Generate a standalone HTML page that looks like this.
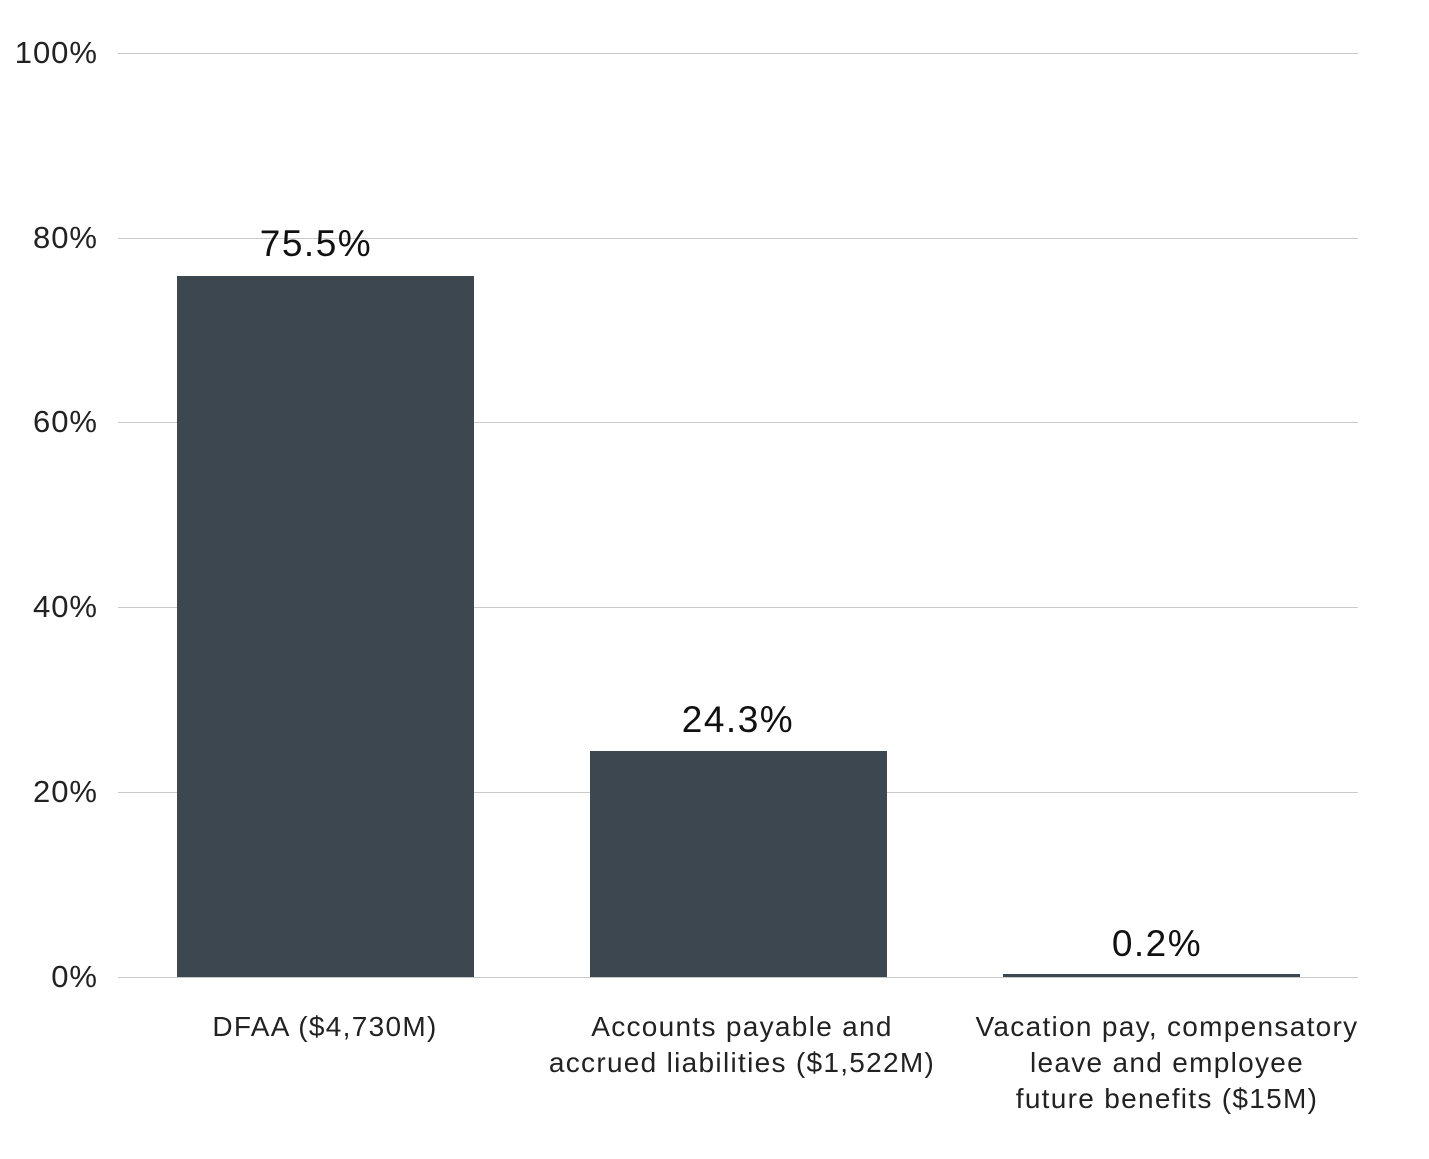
<!DOCTYPE html>
<html><head><style>
html,body{margin:0;padding:0;background:#fff;}
body{width:1429px;height:1159px;position:relative;overflow:hidden;font-family:"Liberation Sans",sans-serif;color:#111;}
.g{position:absolute;left:118px;width:1240px;height:1px;background:#c8c8c8;}
.t{position:absolute;left:0;width:98px;text-align:right;font-size:31px;line-height:30px;color:#222;letter-spacing:1px;}
.b{position:absolute;background:#3d4750;}
.v{position:absolute;width:300px;text-align:center;font-size:37px;line-height:36px;letter-spacing:1.5px;}
.c{position:absolute;width:460px;text-align:center;font-size:28px;line-height:36px;color:#222;letter-spacing:1.3px;}
</style></head><body>
<div class="g" style="top:53px"></div>
<div class="g" style="top:238px"></div>
<div class="g" style="top:422px"></div>
<div class="g" style="top:607px"></div>
<div class="g" style="top:792px"></div>
<div class="g" style="top:977px"></div>
<div class="t" style="top:38px">100%</div>
<div class="t" style="top:223px">80%</div>
<div class="t" style="top:407px">60%</div>
<div class="t" style="top:592px">40%</div>
<div class="t" style="top:777px">20%</div>
<div class="t" style="top:962px">0%</div>
<div class="b" style="left:177px;top:276px;width:297px;height:701px"></div>
<div class="b" style="left:590px;top:751px;width:297px;height:226px"></div>
<div class="b" style="left:1003px;top:974px;width:297px;height:3px"></div>
<div class="v" style="left:166px;top:226px">75.5%</div>
<div class="v" style="left:588px;top:702px">24.3%</div>
<div class="v" style="left:1007px;top:926px">0.2%</div>
<div class="c" style="left:95px;top:1009px">DFAA ($4,730M)</div>
<div class="c" style="left:512px;top:1009px">Accounts payable and<br>accrued liabilities ($1,522M)</div>
<div class="c" style="left:937px;top:1009px">Vacation pay, compensatory<br>leave and employee<br>future benefits ($15M)</div>
</body></html>
